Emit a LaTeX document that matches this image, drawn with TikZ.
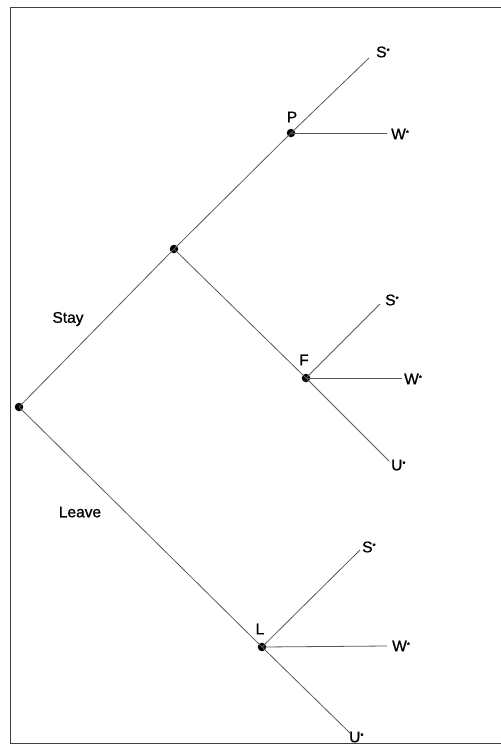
\documentclass[tikz,border=0pt]{standalone}
\usepackage{fontspec}
\setmainfont{Liberation Sans}
\newfontfamily\lblfont[FakeBold=0.9]{Liberation Sans}
\begin{document}
\begin{tikzpicture}[x=1pt,y=-1pt,
  branch/.style={draw=black!65,line width=0.8pt},
  dotnode/.style={circle,fill=black,inner sep=0pt,minimum size=8.5pt},
  lbl/.style={inner sep=0pt,font=\lblfont\fontsize{15.5}{15.5}\selectfont},
  endlbl/.style={lbl,anchor=west}]
\useasboundingbox (0,0) rectangle (501,745);
\draw[black!75,line width=0.9pt] (501,7) -- (10,7) -- (10,743) -- (501,743);
% decision points
\node[dotnode] (root) at (19,407) {};
\node[dotnode] (stay) at (174,249) {};
\node[dotnode] (P) at (291,133) {};
\node[dotnode] (F) at (306,378) {};
\node[dotnode] (L) at (262,647) {};
% branch ends
\coordinate (PS) at (369,58);
\coordinate (PW) at (387,133);
\coordinate (FS) at (380,304);
\coordinate (FW) at (402,378);
\coordinate (FU) at (389,461);
\coordinate (LS) at (360,550);
\coordinate (LW) at (387,646);
\coordinate (LU) at (350,733);
% connectors
\draw[branch] (root.center) -- (stay.center);
\draw[branch] (root.center) -- (L.center);
\draw[branch] (stay.center) -- (P.center);
\draw[branch] (stay.center) -- (F.center);
\draw[branch] (P.center) -- (PS);
\draw[branch] (P.center) -- (PW);
\draw[branch] (F.center) -- (FS);
\draw[branch] (F.center) -- (FW);
\draw[branch] (F.center) -- (FU);
\draw[branch] (L.center) -- (LS);
\draw[branch] (L.center) -- (LW);
\draw[branch] (L.center) -- (LU);
% labels
\newcommand{\st}{\raisebox{0.45ex}{\fontsize{8}{8}\selectfont *}}
\node[lbl] (Plbl) at (292,117) {P};
\node[lbl] (Flbl) at (304,360) {F};
\node[lbl] (Llbl) at (260,629) {L};
\node[lbl] (staylbl) at (68,319) {Stay};
\node[lbl] (leavelbl) at (80,512) {Leave};
\node[endlbl] (PSl) at (376,52) {S\st};
\node[endlbl] (PWl) at (391,134) {W\st};
\node[endlbl] (FSl) at (385,300) {S\st};
\node[endlbl] (FWl) at (404,379) {W\st};
\node[endlbl] (FUl) at (391,465) {U\st};
\node[endlbl] (LSl) at (362,547) {S\st};
\node[endlbl] (LWl) at (392,646) {W\st};
\node[endlbl] (LUl) at (349,737) {U\st};
\end{tikzpicture}
\end{document}
